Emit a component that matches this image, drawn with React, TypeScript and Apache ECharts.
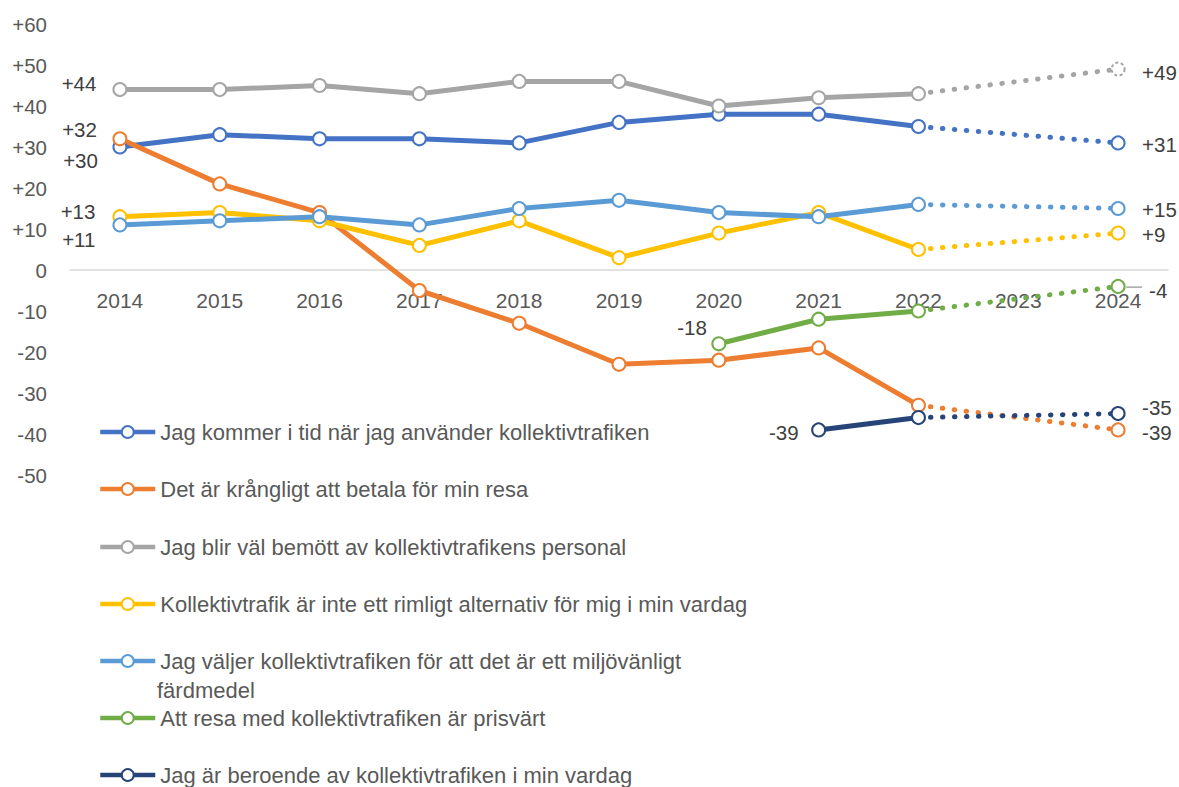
import React, { useEffect, useRef } from "react";
import * as echarts from "echarts";

const years = ["2014", "2015", "2016", "2017", "2018", "2019", "2020", "2021", "2022", "2023", "2024"];

const names = [
  "Jag kommer i tid när jag använder kollektivtrafiken",
  "Det är krångligt att betala för min resa",
  "Jag blir väl bemött av kollektivtrafikens personal",
  "Kollektivtrafik är inte ett rimligt alternativ för mig i min vardag",
  "Jag väljer kollektivtrafiken för att det är ett miljövänligt färdmedel",
  "Att resa med kollektivtrafiken är prisvärt",
  "Jag är beroende av kollektivtrafiken i min vardag",
];

const colors = ["#4472C4", "#ED7D31", "#A5A5A5", "#FFC000", "#5B9BD5", "#70AD47", "#264478"];

// values 2014..2022 (null = no measurement)
const onTime = [30, 33, 32, 32, 31, 36, 38, 38, 35];
const payHard = [32, 21, 14, -5, -13, -23, -22, -19, -33];
const staff = [44, 44, 45, 43, 46, 46, 40, 42, 43];
const notReasonable = [13, 14, 12, 6, 12, 3, 9, 14, 5];
const environment = [11, 12, 13, 11, 15, 17, 14, 13, 16];
const worthPrice = [null, null, null, null, null, null, -18, -12, -10];
const dependent = [null, null, null, null, null, null, null, -39, -36];

// values 2024
const value2024 = [31, -39, 49, 9, 15, -4, -35];

const solid = [onTime, payHard, staff, notReasonable, environment, worthPrice, dependent];

const legendCenters = [432, 489, 547, 604, 661, 718, 775];

const FONT = "'Liberation Sans', Arial, sans-serif";
const fmt = (v: number) => (v > 0 ? "+" + v : String(v));

// first-point label settings: [seriesIndex, dataIndex, side, distance, dy]
const firstLabels: Array<[number, number, string, number, number]> = [
  [0, 0, "left", 14.5, 13],
  [1, 0, "left", 15.5, -9],
  [2, 0, "left", 16, -6],
  [3, 0, "left", 17, -5],
  [4, 0, "left", 17, 15],
  [5, 6, "left", 4.5, -16],
  [6, 7, "left", 12.5, 3],
];
// 2024 label offsets (dy)
const lastLabelDy = [2, 3, 3, 1, 1, 4, -6];

export default function App() {
  const ref = useRef<HTMLDivElement>(null);
  useEffect(() => {
    const chart = echarts.init(ref.current!, null, { renderer: "svg" });
    const labelBase = { color: "#404040", fontSize: 20.5, fontFamily: FONT };

    const series: any[] = [];
    solid.forEach((vals, si) => {
      const data = vals.map((v, di) => {
        if (v === null) return null;
        const fl = firstLabels.find((f) => f[0] === si && f[1] === di);
        if (fl) {
          return {
            value: v,
            label: {
              show: true,
              position: fl[2],
              distance: fl[3],
              offset: [0, fl[4]],
              formatter: (p: any) => fmt(p.value),
              ...labelBase,
            },
          };
        }
        return v;
      });
      series.push({
        type: "line",
        name: names[si],
        data,
        symbol: "emptyCircle",
        symbolSize: 13,
        showAllSymbol: true,
        lineStyle: { color: colors[si], width: 5 },
        itemStyle: { color: colors[si], borderColor: colors[si], borderWidth: 1.75 },
        z: 3,
      });
    });

    solid.forEach((vals, si) => {
      const last = vals[vals.length - 1] as number;
      const data: any[] = years.map(() => null);
      data[8] = { value: last, symbol: "none" };
      const isGreen = si === 5;
      const v24: any = {
        value: value2024[si],
        label: {
          show: true,
          position: "right",
          distance: isGreen ? 0.5 : 16.5,
          offset: [0, lastLabelDy[si]],
          formatter: isGreen ? (p: any) => "{ln| }{v|" + fmt(p.value) + "}" : (p: any) => fmt(p.value),
          ...labelBase,
          rich: isGreen
            ? {
                ln: { width: 16, height: 1.5, backgroundColor: "#A6A6A6", verticalAlign: "top" },
                v: { ...labelBase, lineHeight: 8, padding: [0, 0, 0, 7], verticalAlign: "middle" },
              }
            : undefined,
        },
      };
      if (si === 2) {
        v24.itemStyle = { borderType: [3, 2.5] };
      }
      data[10] = v24;
      series.push({
        type: "line",
        name: names[si],
        data,
        connectNulls: true,
        symbol: "emptyCircle",
        symbolSize: 13,
        showAllSymbol: true,
        lineStyle: { color: colors[si], width: 5, type: [0.5, 11.5], cap: "round" },
        itemStyle: { color: colors[si], borderColor: colors[si], borderWidth: 1.75 },
        z: 2,
      });
    });

    const legends = names.map((n, i) => ({
      data: [n],
      orient: "vertical",
      left: 98,
      top: legendCenters[i] - 12,
      padding: 0,
      itemWidth: 55,
      itemHeight: 15,
      selectedMode: false,
      lineStyle: { width: 4.5 },
      itemStyle: { borderWidth: 1.75 },
      formatter: (name: string) =>
        i === 4 ? "Jag väljer kollektivtrafiken för att det är ett miljövänligt" : name,
      textStyle: { color: "#595959", fontSize: 22, lineHeight: 24, fontFamily: FONT },
    }));

    chart.setOption({
      animation: false,
      backgroundColor: "#ffffff",
      textStyle: { fontFamily: FONT },
      grid: { left: 70, right: 11, top: 24, bottom: 312, containLabel: false },
      xAxis: {
        type: "category",
        data: years,
        boundaryGap: true,
        offset: -205,
        axisLine: { onZero: false, lineStyle: { color: "#D9D9D9", width: 1.5 } },
        axisTick: { show: false },
        axisLabel: { color: "#595959", fontSize: 21, margin: 20, fontFamily: FONT },
      },
      yAxis: {
        type: "value",
        min: -50,
        max: 60,
        interval: 10,
        axisLine: { show: false },
        axisTick: { show: false },
        splitLine: { show: false },
        axisLabel: {
          color: "#595959",
          fontSize: 20.5,
          margin: 23,
          fontFamily: FONT,
          formatter: (v: number) => fmt(v),
        },
      },
      legend: legends,
      graphic: [
        {
          type: "text",
          left: 157,
          top: 690 - 12,
          style: { text: "färdmedel", fill: "#595959", fontSize: 22, lineHeight: 24, fontFamily: FONT },
        },
      ],
      series,
    });
    return () => chart.dispose();
  }, []);
  return (
    <div
      ref={ref}
      style={{ position: "fixed", left: 0, top: 0, width: 1179, height: 787, background: "#fff" }}
    />
  );
}
